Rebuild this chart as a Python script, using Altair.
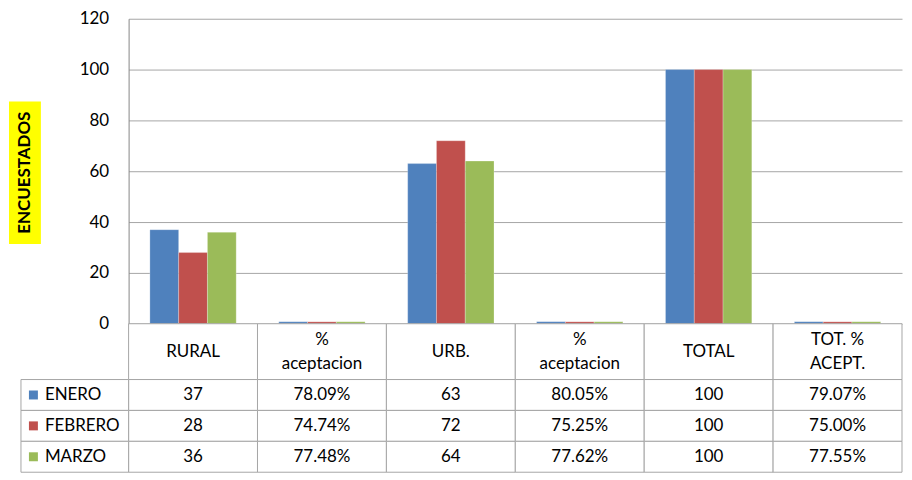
import altair as alt
import pandas as pd

# ---- data ----
keys = ["c1", "c2", "c3", "c4", "c5", "c6"]
col_labels = ["RURAL", "%\naceptacion", "URB.", "%\naceptacion", "TOTAL", "TOT. %\nACEPT."]
series = ["ENERO", "FEBRERO", "MARZO"]
colors = ["#4F81BD", "#C0504D", "#9BBB59"]

rural = [37, 28, 36]
pct_rural = [0.7809, 0.7474, 0.7748]
urb = [63, 72, 64]
pct_urb = [0.8005, 0.7525, 0.7762]
total = [100, 100, 100]
tot_pct = [0.7907, 0.7500, 0.7755]

cols = [rural, pct_rural, urb, pct_urb, total, tot_pct]
is_pct = [False, True, False, True, False, True]

rows = []
for k, vals, p in zip(keys, cols, is_pct):
    for s, v in zip(series, vals):
        txt = f"{v*100:.2f}%" if p else f"{v:d}"
        rows.append({"key": k, "serie": s, "valor": v, "txt": txt})
df = pd.DataFrame(rows)
hdr = pd.DataFrame({"key": keys, "label": col_labels,
                    "nl": [lab.count("\n") + 1 for lab in col_labels]})
leg = pd.DataFrame({"serie": series})

FONT = "Lato"
GRAY = "#A6A6A6"
W = 776
H_PLOT = 306
H_HDR = 56
H_BODY = 93

xscale = alt.Scale(domain=keys, paddingInner=0, paddingOuter=0)
cscale = alt.Scale(domain=series, range=colors)

# ---- bar chart ----
bars = alt.Chart(df).mark_bar(stroke="#ffffff", strokeOpacity=0.25, strokeWidth=1).encode(
    x=alt.X("key:N", scale=xscale, axis=None),
    xOffset=alt.XOffset("serie:N", sort=series,
                        scale=alt.Scale(paddingInner=0, paddingOuter=0.74)),
    y=alt.Y("valor:Q", scale=alt.Scale(domain=[0, 120]),
            axis=alt.Axis(values=[0, 20, 40, 60, 80, 100, 120], grid=True,
                          gridColor=GRAY, domainColor="#868686", ticks=False,
                          labelPadding=20, title=None, labelFont=FONT,
                          labelFontSize=17, labelColor="#000000")),
    color=alt.Color("serie:N", scale=cscale, legend=None),
)

tdf = pd.DataFrame({"t": ["ENCUESTADOS"]})
ybox = alt.Chart(tdf).mark_rect(color="#FFFF00").encode(
    x=alt.value(-120), x2=alt.value(-88), y=alt.value(83), y2=alt.value(226))
ytitle = alt.Chart(tdf).mark_text(angle=270, font=FONT, fontSize=17,
                                  fontWeight="bold", color="#000000",
                                  baseline="middle", align="center").encode(
    text="t:N", x=alt.value(-104), y=alt.value(154.5))

top = alt.layer(bars, ybox, ytitle).properties(width=W, height=H_PLOT)

# ---- header row ----
hcell = alt.Chart(hdr).mark_rect(fill="#ffffff", stroke=GRAY, strokeWidth=1).encode(
    x=alt.X("key:N", scale=xscale, axis=None),
    y=alt.value(0), y2=alt.value(H_HDR))
htext1 = alt.Chart(hdr).transform_filter("datum.nl == 1").mark_text(
    font=FONT, fontSize=17, color="#000000", baseline="middle").encode(
    x=alt.X("key:N", scale=xscale, axis=None),
    y=alt.value(H_HDR / 2), text="label:N")
htext2 = alt.Chart(hdr).transform_filter("datum.nl == 2").mark_text(
    font=FONT, fontSize=17, color="#000000", lineBreak="\n", lineHeight=24,
    baseline="middle").encode(
    x=alt.X("key:N", scale=xscale, axis=None),
    y=alt.value(H_HDR / 2 - 12), text="label:N")
header = alt.layer(hcell, htext1, htext2).properties(width=W, height=H_HDR)

# ---- body rows ----
yscale = alt.Scale(domain=series, paddingInner=0, paddingOuter=0)
bcell = alt.Chart(df).mark_rect(fill="#ffffff", stroke=GRAY, strokeWidth=1).encode(
    x=alt.X("key:N", scale=xscale, axis=None),
    y=alt.Y("serie:N", scale=yscale, axis=None))
btext = alt.Chart(df).mark_text(font=FONT, fontSize=17, color="#000000",
                                baseline="middle").encode(
    x=alt.X("key:N", scale=xscale, axis=None),
    y=alt.Y("serie:N", scale=yscale, axis=None), text="txt:N")
lcell = alt.Chart(leg).mark_rect(fill="#ffffff", stroke=GRAY, strokeWidth=1).encode(
    x=alt.value(-108), x2=alt.value(0),
    y=alt.Y("serie:N", scale=yscale, axis=None))
lsq = alt.Chart(leg).mark_square(size=81, opacity=1).encode(
    x=alt.value(-95.5),
    y=alt.Y("serie:N", scale=yscale, axis=None),
    color=alt.Color("serie:N", scale=cscale, legend=None))
ltext = alt.Chart(leg).mark_text(font=FONT, fontSize=17, color="#000000",
                                 align="left", baseline="middle").encode(
    x=alt.value(-84),
    y=alt.Y("serie:N", scale=yscale, axis=None), text="serie:N")
body = alt.layer(bcell, btext, lcell, lsq, ltext).properties(width=W, height=H_BODY)

chart = alt.vconcat(top, header, body, spacing=0, bounds="flush").properties(
    padding={"left": 0, "top": 0, "right": 0, "bottom": 0}
).configure_view(stroke="transparent")

chart.save("out.html", embed_options={"renderer": "svg", "actions": False})
